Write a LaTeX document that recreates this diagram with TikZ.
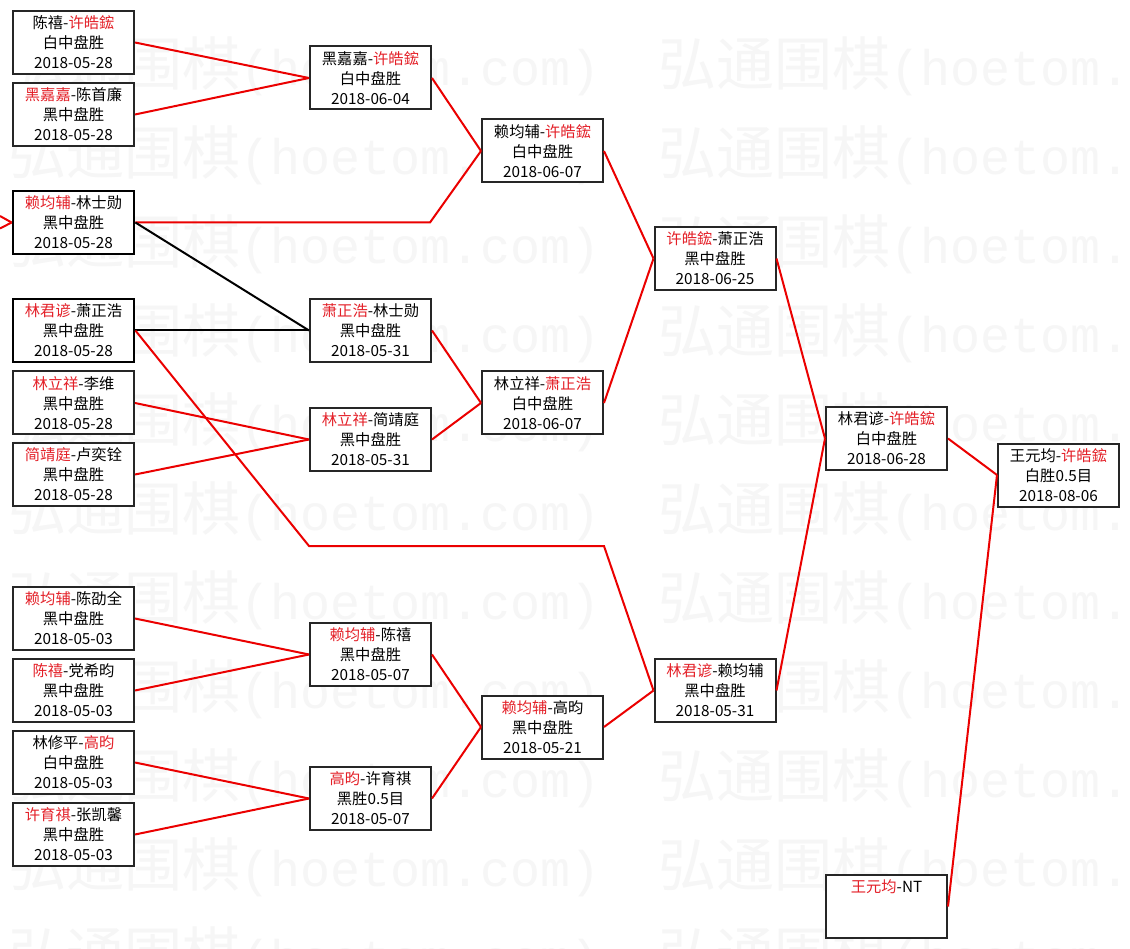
\documentclass[tikz,border=0pt]{standalone}
\usepackage{fontspec}
\setmainfont{Noto Sans CJK SC}
\newfontfamily\wmmono{Liberation Mono}
\definecolor{wred}{RGB}{228,32,40}
\definecolor{lred}{RGB}{235,0,0}
\definecolor{wmc}{RGB}{246,246,246}
\newcommand\redn[1]{\textcolor{wred}{#1}}
\newcommand\wmtext{{\fontsize{58}{60}\selectfont 弘通围棋}{\wmmono\fontsize{50}{60}\selectfont(hoetom.com)}}
\begin{document}
\begin{tikzpicture}[x=1pt,y=-1pt,
  game/.style={draw=black!85, line width=2pt, minimum width=121pt, minimum height=63pt,
    inner sep=0pt, align=center, fill=white, font=\fontsize{15.3}{20}\selectfont},
  seed/.style={game, line width=2.8pt, draw=black},
  win/.style={draw=lred, line width=2pt},
  lose/.style={draw=black, line width=2pt},
  wmark/.style={anchor=west, inner sep=0pt, text=wmc}]
\useasboundingbox[fill=white] (0,0) rectangle (1130,949);
% watermark
\foreach \k in {0,...,10}{
  \node[wmark] (wma\k) at (8,{66+89*\k}) {\wmtext};
  \node[wmark] (wmb\k) at (658,{66+89*\k}) {\wmtext};
}
% nodes
\node[game] (B1) at (73.5,42.5) {陈禧-\redn{许皓鋐}\\白中盘胜\\2018-05-28};
\node[game] (B2) at (73.5,114.5) {\redn{黑嘉嘉}-陈首廉\\黑中盘胜\\2018-05-28};
\node[seed] (B3) at (73.5,222.5) {\redn{赖均辅}-林士勋\\黑中盘胜\\2018-05-28};
\node[seed] (B4) at (73.5,330.5) {\redn{林君谚}-萧正浩\\黑中盘胜\\2018-05-28};
\node[game] (B5) at (73.5,403) {\redn{林立祥}-李维\\黑中盘胜\\2018-05-28};
\node[game] (B6) at (73.5,474.5) {\redn{简靖庭}-卢奕铨\\黑中盘胜\\2018-05-28};
\node[game] (B7) at (73.5,618.5) {\redn{赖均辅}-陈劭全\\黑中盘胜\\2018-05-03};
\node[game] (B8) at (73.5,690.5) {\redn{陈禧}-党希昀\\黑中盘胜\\2018-05-03};
\node[game] (B9) at (73.5,762.5) {林修平-\redn{高昀}\\白中盘胜\\2018-05-03};
\node[game] (B10) at (73.5,834.5) {\redn{许育祺}-张凯馨\\黑中盘胜\\2018-05-03};
\node[game] (C1) at (370.5,78) {黑嘉嘉-\redn{许皓鋐}\\白中盘胜\\2018-06-04};
\node[game] (C2) at (370.5,330.5) {\redn{萧正浩}-林士勋\\黑中盘胜\\2018-05-31};
\node[game] (C3) at (370.5,439.5) {\redn{林立祥}-简靖庭\\黑中盘胜\\2018-05-31};
\node[game] (C4) at (370.5,654.5) {\redn{赖均辅}-陈禧\\黑中盘胜\\2018-05-07};
\node[game] (C5) at (370.5,798.5) {\redn{高昀}-许育祺\\黑胜0.5目\\2018-05-07};
\node[game] (D1) at (542.5,151) {赖均辅-\redn{许皓鋐}\\白中盘胜\\2018-06-07};
\node[game] (D2) at (542.5,403) {林立祥-\redn{萧正浩}\\白中盘胜\\2018-06-07};
\node[game] (D3) at (542.5,727) {\redn{赖均辅}-高昀\\黑中盘胜\\2018-05-21};
\node[game] (E1) at (715,258.5) {\redn{许皓鋐}-萧正浩\\黑中盘胜\\2018-06-25};
\node[game] (E2) at (715,690.5) {\redn{林君谚}-赖均辅\\黑中盘胜\\2018-05-31};
\node[game] (F1) at (886.5,438.5) {林君谚-\redn{许皓鋐}\\白中盘胜\\2018-06-28};
\node[game] (F2) at (886.5,906.5) {\redn{王元均}-NT\\\phantom{0}\\\phantom{0}};
\node[game] (G1) at (1058.5,475) {王元均-\redn{许皓鋐}\\白胜0.5目\\2018-08-06};
% helper coordinates
\coordinate (L1) at (0,216);
\coordinate (L2) at (0,228.5);
\coordinate (K1) at (430,222.5);
\coordinate (K2) at (309,546);
\coordinate (K3) at (604,546);
% connectors
\draw[win] (L1) -- (B3.west);
\draw[win] (L2) -- (B3.west);
\draw[win] (B1.east) -- (C1.west);
\draw[win] (B2.east) -- (C1.west);
\draw[win] (B3.east) -- (K1) -- (D1.west);
\draw[lose] (B3.east) -- (C2.west);
\draw[lose] (B4.east) -- (C2.west);
\draw[win] (B4.east) -- (K2) -- (K3) -- (E2.west);
\draw[win] (B5.east) -- (C3.west);
\draw[win] (B6.east) -- (C3.west);
\draw[win] (B7.east) -- (C4.west);
\draw[win] (B8.east) -- (C4.west);
\draw[win] (B9.east) -- (C5.west);
\draw[win] (B10.east) -- (C5.west);
\draw[win] (C1.east) -- (D1.west);
\draw[win] (C2.east) -- (D2.west);
\draw[win] (C3.east) -- (D2.west);
\draw[win] (C4.east) -- (D3.west);
\draw[win] (C5.east) -- (D3.west);
\draw[win] (D1.east) -- (E1.west);
\draw[win] (D2.east) -- (E1.west);
\draw[win] (D3.east) -- (E2.west);
\draw[win] (E1.east) -- (F1.west);
\draw[win] (E2.east) -- (F1.west);
\draw[win] (F1.east) -- (G1.west);
\draw[win] (F2.east) -- (G1.west);
\end{tikzpicture}
\end{document}
